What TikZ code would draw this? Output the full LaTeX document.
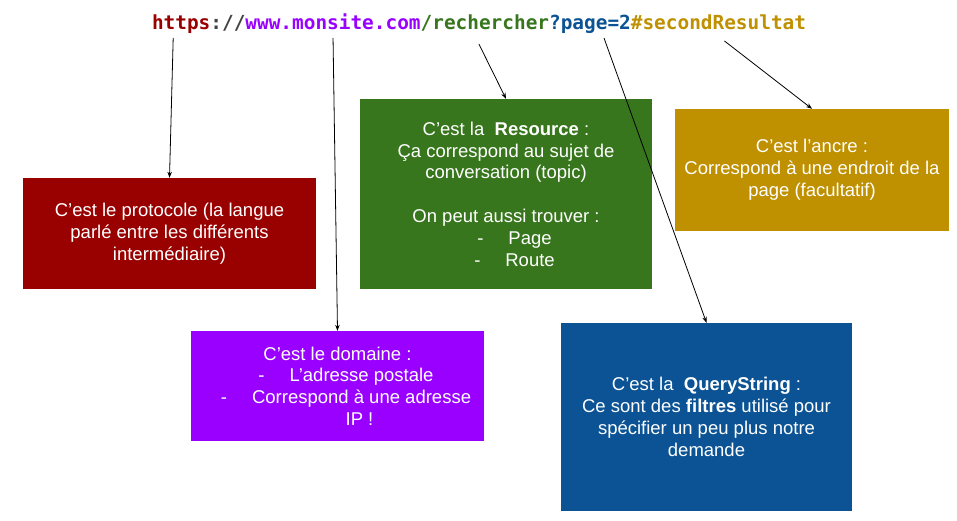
\documentclass[tikz,border=0pt]{standalone}
\usepackage{fontspec}
\setmainfont{Liberation Sans}
\newfontfamily\urlfont{DejaVu Sans Mono}
\usetikzlibrary{arrows.meta,positioning}
\definecolor{rouge}{HTML}{990000}
\definecolor{gris}{HTML}{434343}
\definecolor{violet}{HTML}{9900FF}
\definecolor{vert}{HTML}{38761D}
\definecolor{bleu}{HTML}{0B5394}
\definecolor{or}{HTML}{BF9000}
\begin{document}
\begin{tikzpicture}[x=1pt,y=-1pt,
    urlpart/.style={inner sep=0pt,outer sep=0pt,anchor=base west,
      font=\urlfont\bfseries\fontsize{19.4}{22}\selectfont},
    boite/.style={fill=#1,text=white,inner sep=0pt,align=center,
      font=\fontsize{18.5}{21.8}\selectfont},
    fleche/.style={-{Stealth[length=6pt,width=4.5pt]},line width=0.8pt}]
    \useasboundingbox[fill=white] (0,0) rectangle (957,521);

    % l'URL
    \node[urlpart,text=rouge] (proto) at (152,30) {https};
    \node[urlpart,text=gris] (sep) at (proto.base east) {://};
    \node[urlpart,text=violet] (dom) at (sep.base east) {www.monsite.com};
    \node[urlpart,text=vert] (res) at (dom.base east) {/rechercher};
    \node[urlpart,text=bleu] (query) at (res.base east) {?page=2};
    \node[urlpart,text=or] (ancre) at (query.base east) {\#secondResultat};

    % les explications
    \node[boite=rouge,minimum width=293pt,minimum height=111pt] (bproto) at (169.5,233.5)
        {C’est le protocole (la langue\\parlé entre les différents\\intermédiaire)};
    \node[boite=vert,minimum width=292pt,minimum height=190pt] (bres) at (506,194)
        {C’est la\ \ \textbf{Resource} :\\Ça correspond au sujet de\\conversation (topic)\\[21.8pt]
         On peut aussi trouver :\\\hspace*{17pt}-\hspace{1.35em}Page\\\hspace*{17pt}-\hspace{1.35em}Route};
    \node[boite=or,minimum width=274pt,minimum height=122pt] (bancre) at (812,170)
        {C’est l’ancre :\\Correspond à une endroit de la\\page (facultatif)};
    \node[boite=violet,minimum width=293pt,minimum height=110pt] (bdom) at (337.5,386)
        {C’est le domaine :\\\hspace*{17pt}-\hspace{1.35em}L’adresse postale\\
         \hspace*{17pt}-\hspace{1.35em}Correspond à une adresse\\\hspace*{44pt}IP !};
    \node[boite=bleu,minimum width=291pt,minimum height=188pt] (bquery) at (706.5,417)
        {C’est la\ \ \textbf{QueryString} :\\Ce sont des \textbf{filtres} utilisé pour\\
         spécifier un peu plus notre\\demande};

    \draw[fleche] ([xshift=-8pt,yshift=-8pt]proto.base) -- (bproto.north);
    \draw[fleche] ([yshift=-8pt]dom.base) -- (bdom.north);
    \draw[fleche] ([xshift=-6pt,yshift=-14pt]res.base) -- (bres.north);
    \draw[fleche] ([xshift=14pt,yshift=-8pt]query.base) -- (bquery.north);
    \draw[fleche] ([xshift=6pt,yshift=-11pt]ancre.base) -- (bancre.north);
\end{tikzpicture}
\end{document}
